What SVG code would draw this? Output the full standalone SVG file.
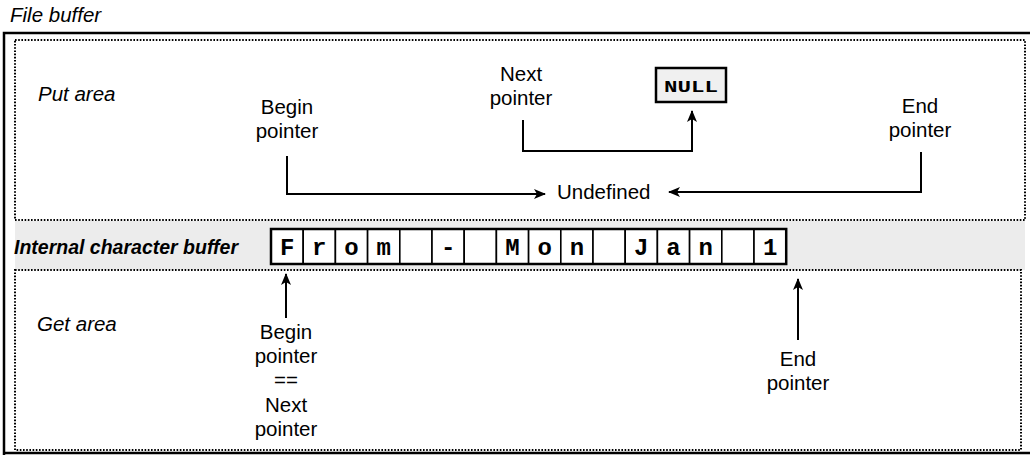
<svg xmlns="http://www.w3.org/2000/svg" width="1030" height="455" viewBox="0 0 1030 455">
<defs>
<marker id="ah" markerWidth="12" markerHeight="10" refX="11" refY="5" orient="auto" markerUnits="userSpaceOnUse">
<path d="M0,0 L12,5 L0,10 L3,5 z" fill="#000"/>
</marker>
<style>
.lbl{font-family:"Liberation Sans",Arial,Helvetica,sans-serif;font-size:20.5px;fill:#000}
.it{font-style:italic}
.c{text-anchor:middle}
.dot{fill:none;stroke:#000;stroke-width:2;stroke-dasharray:1.6 1.6}
.ln{fill:none;stroke:#000;stroke-width:2}
.cell{fill:#fff;stroke:#000;stroke-width:1.6}
.ch{font-family:"Liberation Mono","Courier New",monospace;font-weight:bold;font-size:24px;text-anchor:middle;fill:#000}
</style>
</defs>
<rect width="1030" height="455" fill="#fff"/>
<g id="file-buffer">
<text class="lbl it" x="10" y="22">File buffer</text>
<path d="M4,455 L4,33 L1032,33 M4,453 L1032,453" fill="none" stroke="#000" stroke-width="2.5"/>
<rect x="15" y="221" width="1010" height="49" fill="#ececec"/>
</g>
<g id="put-area">
<rect class="dot" x="15" y="40" width="1010" height="180"/>
<text class="lbl it" x="38" y="101">Put area</text>
</g>
<g id="put-begin">
<text class="lbl c" x="287" y="114">Begin</text>
<text class="lbl c" x="287" y="138">pointer</text>
</g>
<g id="put-next">
<text class="lbl c" x="521" y="81">Next</text>
<text class="lbl c" x="521" y="105">pointer</text>
</g>
<g id="null-box">
<rect x="656" y="68" width="70" height="34" fill="#f0f0f0" stroke="#000" stroke-width="2.5"/>
<text x="691" y="92" font-family="'Liberation Mono','Courier New',monospace" font-weight="bold" font-size="17" text-anchor="middle" textLength="54" lengthAdjust="spacingAndGlyphs">NULL</text>
</g>
<g id="put-end">
<text class="lbl c" x="920" y="113">End</text>
<text class="lbl c" x="920" y="137">pointer</text>
</g>
<g id="undefined">
<text class="lbl" x="557" y="199">Undefined</text>
</g>
<g id="internal-buffer">
<text x="14" y="254" font-family="'Liberation Sans',Arial,sans-serif" font-size="19.5" font-style="italic" font-weight="bold">Internal character buffer</text>
<g id="cells">
<rect class="cell" x="271" y="229" width="32.2" height="35"/>
<rect class="cell" x="303.2" y="229" width="32.2" height="35"/>
<rect class="cell" x="335.4" y="229" width="32.2" height="35"/>
<rect class="cell" x="367.6" y="229" width="32.2" height="35"/>
<rect class="cell" x="399.8" y="229" width="32.2" height="35"/>
<rect class="cell" x="432" y="229" width="32.2" height="35"/>
<rect class="cell" x="464.2" y="229" width="32.2" height="35"/>
<rect class="cell" x="496.4" y="229" width="32.2" height="35"/>
<rect class="cell" x="528.6" y="229" width="32.2" height="35"/>
<rect class="cell" x="560.8" y="229" width="32.2" height="35"/>
<rect class="cell" x="593" y="229" width="32.2" height="35"/>
<rect class="cell" x="625.2" y="229" width="32.2" height="35"/>
<rect class="cell" x="657.4" y="229" width="32.2" height="35"/>
<rect class="cell" x="689.6" y="229" width="32.2" height="35"/>
<rect class="cell" x="721.8" y="229" width="32.2" height="35"/>
<rect class="cell" x="754" y="229" width="32.2" height="35"/>
<rect x="271" y="229" width="515.2" height="35" fill="none" stroke="#000" stroke-width="2.5"/>
<text class="ch" x="287.1" y="255">F</text>
<text class="ch" x="319.3" y="255">r</text>
<text class="ch" x="351.5" y="255">o</text>
<text class="ch" x="383.7" y="255">m</text>
<text class="ch" x="448.1" y="255">-</text>
<text class="ch" x="512.5" y="255">M</text>
<text class="ch" x="544.7" y="255">o</text>
<text class="ch" x="576.9" y="255">n</text>
<text class="ch" x="641.3" y="255">J</text>
<text class="ch" x="673.5" y="255">a</text>
<text class="ch" x="705.7" y="255">n</text>
<text class="ch" x="770.1" y="255">1</text>
</g>
</g>
<g id="get-area">
<rect class="dot" x="15" y="270" width="1006" height="180"/>
<text class="lbl it" x="37" y="331">Get area</text>
</g>
<g id="get-begin">
<text class="lbl c" x="286" y="339">Begin</text>
<text class="lbl c" x="286" y="363">pointer</text>
<text class="lbl c" x="286" y="387">==</text>
<text class="lbl c" x="286" y="412">Next</text>
<text class="lbl c" x="286" y="436">pointer</text>
</g>
<g id="get-end">
<text class="lbl c" x="798" y="366">End</text>
<text class="lbl c" x="798" y="390">pointer</text>
</g>
<g id="connectors">
<path class="ln" d="M287,156 L287,194 L545,194" marker-end="url(#ah)"/>
<path class="ln" d="M523,120 L523,151 L692,151 L692,111" marker-end="url(#ah)"/>
<path class="ln" d="M921,152 L921,192 L669,192" marker-end="url(#ah)"/>
<path class="ln" d="M286,318 L286,274" marker-end="url(#ah)"/>
<path class="ln" d="M798,340 L798,279" marker-end="url(#ah)"/>
</g>
</svg>
